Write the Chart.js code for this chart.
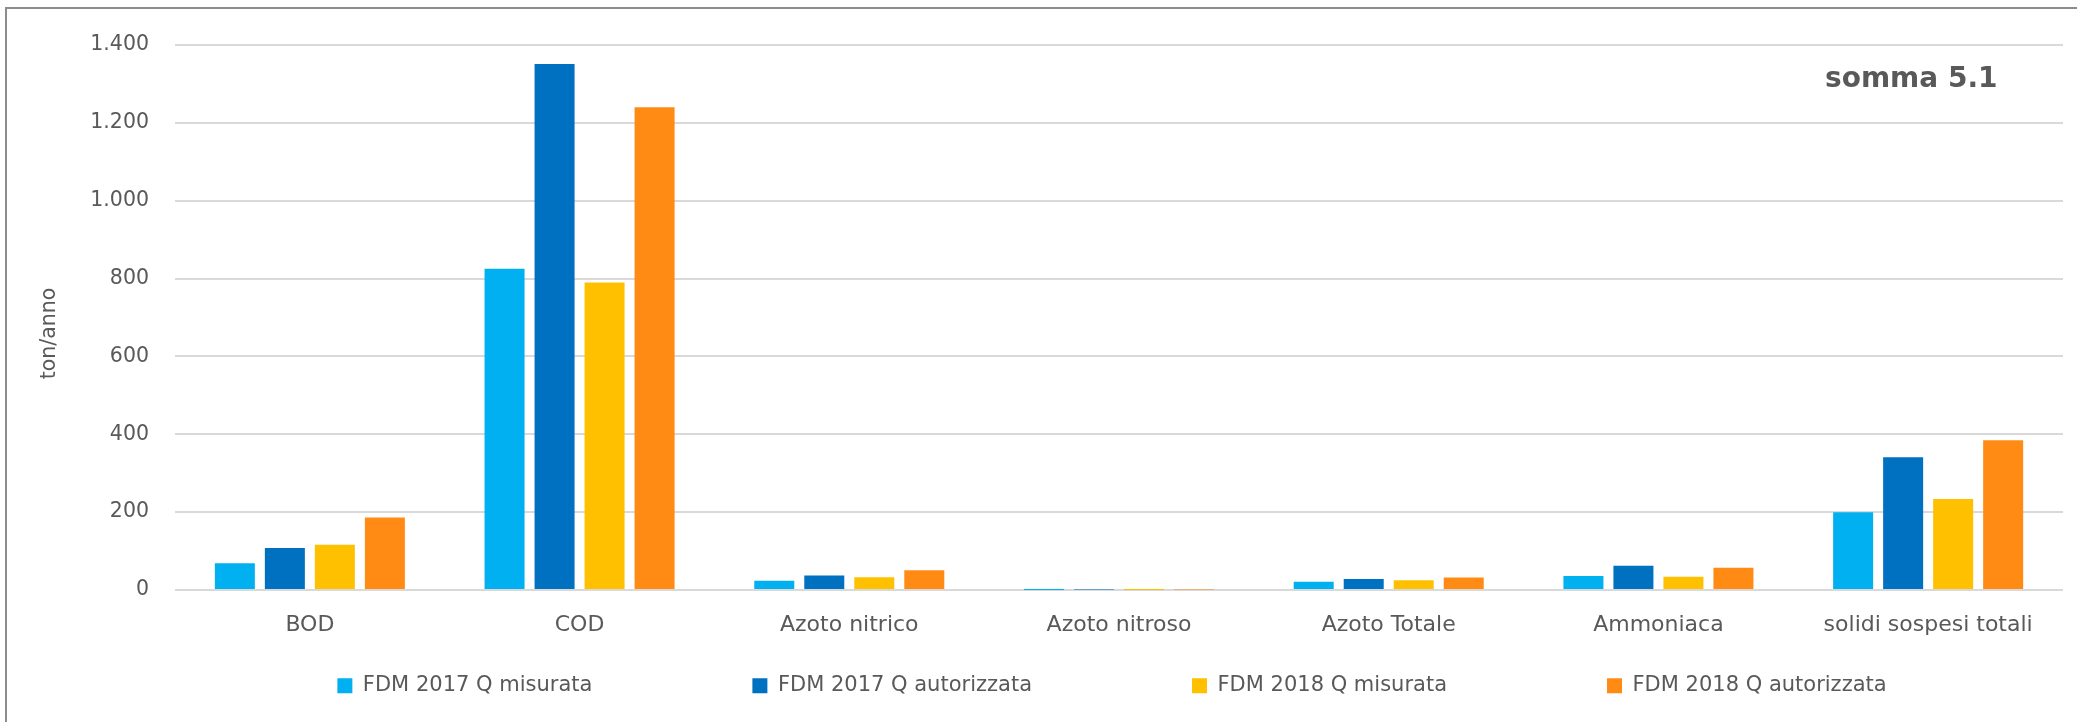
<!DOCTYPE html>
<html><head><meta charset="utf-8">
<script src="https://cdn.jsdelivr.net/npm/chart.js@4.4.1/dist/chart.umd.min.js"></script>
<style>
html,body{margin:0;padding:0;background:#fff;overflow:hidden;}
#wrap{position:relative;width:2077px;height:722px;}
#frame{position:absolute;left:5px;top:7px;width:2300px;height:900px;border-left:2px solid #8c8c8c;border-top:2px solid #8c8c8c;pointer-events:none;}
canvas{position:absolute;left:0;top:0;}
</style></head><body>
<div id="wrap"><canvas id="c" width="2077" height="722"></canvas><div id="frame"></div></div>
<script>
const categories = ['BOD', 'COD', 'Azoto nitrico', 'Azoto nitroso', 'Azoto Totale', 'Ammoniaca', 'solidi sospesi totali'];
const seriesNames = ['FDM 2017 Q misurata', 'FDM 2017 Q autorizzata', 'FDM 2018 Q misurata', 'FDM 2018 Q autorizzata'];
const fdm2017Misurata    = [69, 825, 24, 0.3, 21, 36, 200];
const fdm2017Autorizzata = [108, 1351, 37, 1.2, 28, 62, 341];
const fdm2018Misurata    = [116, 790, 33, 0.3, 25, 34, 234];
const fdm2018Autorizzata = [186, 1240, 51, 1.2, 32, 57, 385];
const yTicks = [0, 200, 400, 600, 800, 1000, 1200, 1400];
const yTickLabels = ['0', '200', '400', '600', '800', '1.000', '1.200', '1.400'];
const yAxisTitle = 'ton/anno';
const chartTitle = 'somma 5.1';

const colors = ['#00B0F0', '#0070C0', '#FFC000', '#FF8B14'];
const seriesValues = [fdm2017Misurata, fdm2017Autorizzata, fdm2018Misurata, fdm2018Autorizzata];
const textColor = '#595959';
Chart.defaults.font.family = "'DejaVu Sans', sans-serif";
Chart.defaults.color = textColor;

const legendPlacer = {
  id: 'legendPlacer',
  afterLayout(chart) {
    const lg = chart.legend;
    if (!lg) return;
    const pad = lg.options.labels.padding;
    const ca = chart.chartArea;
    const rowTop = 675.3;
    lg.left = 161; lg.right = ca.right; lg.width = lg.right - lg.left;
    lg.top = rowTop - pad; lg.bottom = chart.height; lg.height = lg.bottom - lg.top;
  }
};

const textExtras = {
  id: 'textExtras',
  afterDraw(chart) {
    const ctx = chart.ctx, ca = chart.chartArea;
    ctx.save();
    ctx.font = "bold 28px 'DejaVu Sans', sans-serif";
    ctx.fillStyle = textColor;
    ctx.textAlign = 'left';
    ctx.textBaseline = 'alphabetic';
    ctx.fillText(chartTitle, ca.right - 238, ca.top + 42);
    ctx.restore();
    ctx.save();
    ctx.font = "20.5px 'DejaVu Sans', sans-serif";
    ctx.fillStyle = textColor;
    ctx.textAlign = 'center';
    ctx.textBaseline = 'middle';
    ctx.translate(ca.left - 125.5, (ca.top + ca.bottom) / 2 + 16);
    ctx.rotate(-Math.PI / 2);
    ctx.fillText(yAxisTitle, 0, 0);
    ctx.restore();
  }
};

new Chart(document.getElementById('c'), {
  type: 'bar',
  data: {
    labels: categories,
    datasets: seriesNames.map((n, i) => ({
      label: n,
      data: seriesValues[i],
      backgroundColor: colors[i],
      borderWidth: 0,
      categoryPercentage: 0.7416,
      barPercentage: 0.8
    }))
  },
  options: {
    responsive: false,
    animation: false,
    layout: { padding: { top: 45, right: 14, left: 0, bottom: 0 } },
    scales: {
      x: {
        grid: { display: false, drawTicks: false },
        border: { display: false },
        ticks: { font: { size: 22 }, color: textColor, padding: 22, maxRotation: 0, autoSkip: false },
        afterFit(s) { s.height = 131; }
      },
      y: {
        min: 0, max: 1400,
        grid: { color: '#D9D9D9', lineWidth: 2, drawTicks: false },
        border: { display: false },
        ticks: {
          stepSize: 200, padding: 26, font: { size: 20.5 }, color: textColor,
          callback: (v) => { const k = yTicks.indexOf(v); return k >= 0 ? yTickLabels[k] : ''; }
        },
        title: { display: false },
        afterFit(s) { s.width = 175; }
      }
    },
    plugins: {
      legend: {
        position: 'bottom',
        maxHeight: 1,
        labels: { boxWidth: 15, boxHeight: 15, padding: 160, font: { size: 21 }, color: textColor }
      },
      tooltip: { enabled: false },
      title: { display: false }
    }
  },
  plugins: [legendPlacer, textExtras]
});
</script>
</body></html>
